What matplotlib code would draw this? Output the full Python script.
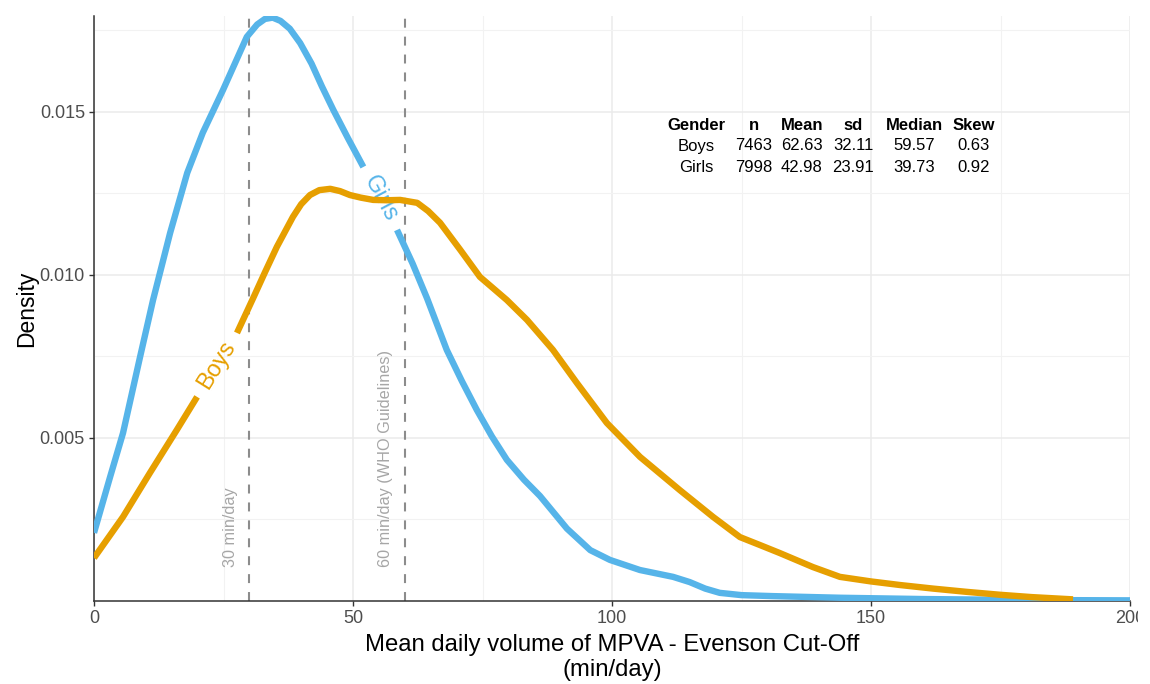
import numpy as np
import matplotlib
matplotlib.use("Agg")
import matplotlib.pyplot as plt
from matplotlib.transforms import Bbox, TransformedBbox

plt.rcParams['font.family'] = ['Liberation Sans', 'DejaVu Sans']

# Kernel density estimates of daily MVPA minutes
girls_x = [0, 3.1, 5.6, 8.9, 11.4, 14.7, 18.0, 21.0, 24.9, 27.3, 29.5, 31.5, 33.0,
           34.5, 36.0, 37.8, 39.8, 42.0, 44.0, 46.2, 49.0, 52.0, 58.5, 61.5, 64.3,
           68.1, 71.0, 73.9, 76.8, 79.7, 83.0, 86.1, 91.3, 95.8, 99.6, 105.4,
           111.8, 115.0, 118.0, 120.8, 125.0, 131.0, 144.0, 160.0, 180.0, 200.0]
girls_y = [0.00209, 0.0038, 0.00515, 0.00749, 0.00923, 0.01129, 0.01313, 0.01436,
           0.01567, 0.01652, 0.0173, 0.01768, 0.01785, 0.01789, 0.01779, 0.01755,
           0.01711, 0.01648, 0.01578, 0.01506, 0.0142, 0.01331, 0.01138, 0.01035,
           0.00928, 0.0077, 0.00675, 0.00586, 0.00505, 0.00433, 0.00372, 0.00322,
           0.00222, 0.00156, 0.00126, 0.00095, 0.00074, 0.00058, 0.00038, 0.00025,
           0.00018, 0.00015, 0.0001, 0.00006, 0.00003, 0.00002]

boys_x = [0, 5.6, 10.8, 16.0, 19.9, 27.6, 30.7, 33.0, 35.3, 38.4, 40.0, 41.7, 43.5,
          45.6, 47.5, 49.4, 51.5, 53.9, 56.5, 59.1, 62.4, 64.5, 66.8, 70.7, 74.5,
          79.7, 83.6, 88.6, 93.2, 99.0, 105.4, 113.1, 119.5, 124.7, 128.5, 132.4,
          138.8, 144.0, 150.0, 155.6, 162.0, 168.5, 175.0, 181.0, 189.0]
boys_y = [0.00132, 0.00258, 0.00393, 0.00525, 0.00626, 0.00822, 0.00928, 0.01008,
          0.01086, 0.01178, 0.01217, 0.01245, 0.0126, 0.01264, 0.01257, 0.01245,
          0.01237, 0.0123, 0.01229, 0.0123, 0.01221, 0.01196, 0.0116, 0.01077,
          0.00994, 0.00923, 0.00862, 0.0077, 0.00669, 0.00546, 0.00442, 0.0034,
          0.00258, 0.00196, 0.00172, 0.00147, 0.00104, 0.00074, 0.0006, 0.00049,
          0.00038, 0.00028, 0.00019, 0.00012, 0.00005]

# Reference thresholds
cutoffs = [30, 60]
cutoff_labels = ["30 min/day", "60 min/day (WHO Guidelines)"]

# Summary table
table_header = ["Gender", "n", "Mean", "sd", "Median", "Skew"]
table_rows = [["Boys", "7463", "62.63", "32.11", "59.57", "0.63"],
              ["Girls", "7998", "42.98", "23.91", "39.73", "0.92"]]

x_ticks = [0, 50, 100, 150, 200]
y_ticks = [0.005, 0.010, 0.015]

BLUE = "#56B4E9"
ORANGE = "#E69F00"

fig = plt.figure(figsize=(11.5, 6.84), dpi=100)
ax = fig.add_axes([94 / 1150, 1 - 601 / 684, (1130 - 94) / 1150, (601 - 16) / 684])
ax.set_xlim(0, 200)
ax.set_ylim(0, 0.01794)

# grid
ax.set_xticks(x_ticks)
ax.set_yticks(y_ticks)
ax.set_xticks([25, 75, 125, 175], minor=True)
ax.set_yticks([0.0025, 0.0075, 0.0125, 0.0175], minor=True)
ax.grid(True, which='major', color='#EBEBEB', lw=1.1, zorder=0)
ax.grid(True, which='minor', color='#F2F2F2', lw=0.8, zorder=0)
ax.set_axisbelow(True)
ax.tick_params(which='minor', length=0)
ax.tick_params(which='major', length=3.5, width=1, color='#333333',
               labelsize=13, labelcolor='#4D4D4D', pad=3)
ax.set_yticklabels(["0.005", "0.010", "0.015"])

for s in ['top', 'right']:
    ax.spines[s].set_visible(False)
for s in ['left', 'bottom']:
    ax.spines[s].set_color('#333333')
    ax.spines[s].set_linewidth(1.1)


def label_on_curve(xs, ys, lo, hi, text, color, z):
    """Draw a curve broken at (lo, hi) with its name written in the gap."""
    xs = np.asarray(xs, float)
    ys = np.asarray(ys, float)
    left = xs <= lo
    right = xs >= hi
    kw = dict(color=color, lw=4.6, solid_capstyle='butt', solid_joinstyle='round', zorder=z)
    ax.plot(xs[left], ys[left], **kw)
    ax.plot(xs[right], ys[right], **kw)
    i0 = np.where(left)[0][-1]
    i1 = np.where(right)[0][0]
    p0 = ax.transData.transform((xs[i0], ys[i0]))
    p1 = ax.transData.transform((xs[i1], ys[i1]))
    ang = np.degrees(np.arctan2(p1[1] - p0[1], p1[0] - p0[0]))
    cx = (xs[i0] + xs[i1]) / 2
    cy = (ys[i0] + ys[i1]) / 2
    ax.text(cx, cy, text, color=color, fontsize=17, rotation=ang,
            rotation_mode='anchor', ha='center', va='center', zorder=z)


label_on_curve(girls_x, girls_y, 52.0, 58.5, "Girls", BLUE, 3)
label_on_curve(boys_x, boys_y, 19.9, 27.6, "Boys", ORANGE, 4)

# threshold lines
for xc, lab in zip(cutoffs, cutoff_labels):
    ax.axvline(xc, color='#8C8C8C', lw=1.5, dashes=(4.3, 4.3), zorder=2)
    ax.text(xc - 3.7, 0.00104, lab, rotation=90, ha='center', va='bottom',
            fontsize=11.7, color='#A6A6A6', zorder=2)

# summary table
col_x = [696, 754, 802, 853, 914, 974]
row_y = [125, 146, 167]
for cx, h in zip(col_x, table_header):
    fig.text(cx / 1150, 1 - row_y[0] / 684, h, ha='center', va='center',
             fontsize=12, fontweight='bold', color='black')
for ry, row in zip(row_y[1:], table_rows):
    for cx, v in zip(col_x, row):
        fig.text(cx / 1150, 1 - ry / 684, v, ha='center', va='center',
                 fontsize=12, color='black')

ax.set_xlabel("Mean daily volume of MPVA - Evenson Cut-Off\n(min/day)",
              fontsize=17.2, color='black', labelpad=5, linespacing=1.2)
ax.set_ylabel("Density", fontsize=16.5, color='black', va='center')
ax.yaxis.set_label_coords(-0.0647, 0.50)

# the right edge of the canvas cuts the last tick label
clip = TransformedBbox(Bbox([[0, 0], [1138 / 1150, 1]]), fig.transFigure)
for lbl in ax.get_xticklabels():
    lbl.set_clip_on(True)
    lbl.set_clip_box(clip)

fig.savefig("out.png", dpi=100, facecolor='white')
